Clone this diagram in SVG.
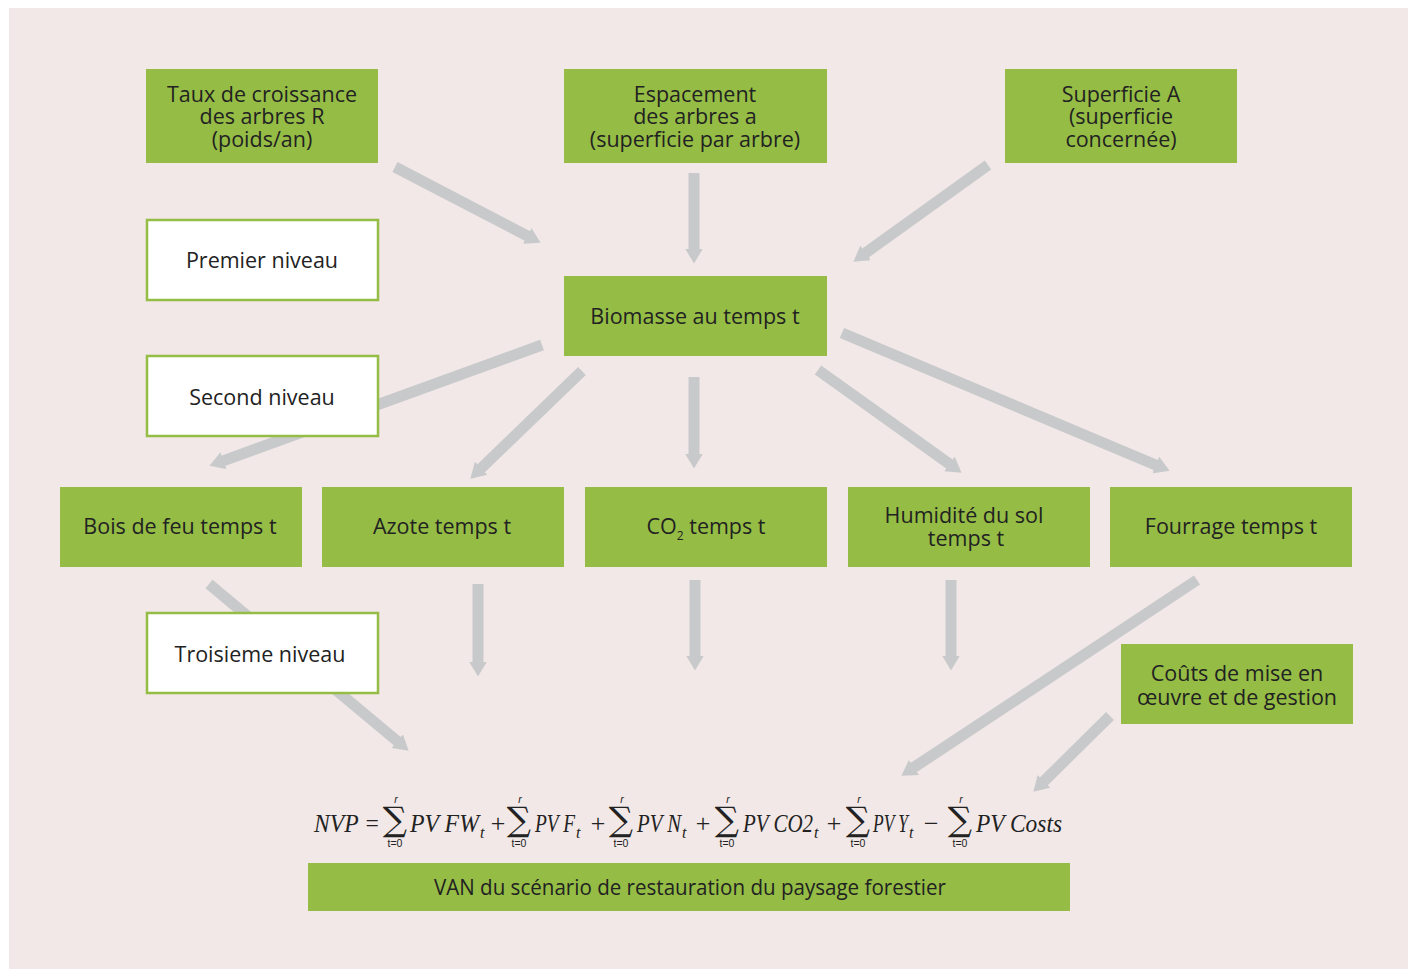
<svg xmlns="http://www.w3.org/2000/svg" width="1413" height="971" viewBox="0 0 1413 971">
<defs>
<marker id="ah" markerUnits="userSpaceOnUse" markerWidth="16" markerHeight="18" refX="0.5" refY="9" orient="auto" viewBox="0 0 16 18">
<path d="M0,0 L15,9 L0,18 Z" fill="#c8c9cb"/>
</marker>
<style>
.g{fill:#95bd45}
.w{fill:#ffffff;stroke:#95bd45;stroke-width:2.5}
.t{font-family:"Open Sans","DejaVu Sans",sans-serif;font-size:21.5px;fill:#222;text-anchor:middle}
.c line{stroke:#c8c9cb;stroke-width:11;marker-end:url(#ah)}
.f{font-family:"Liberation Serif","DejaVu Serif",serif;font-style:italic;font-size:26px;fill:#222}
.s{font-family:"DejaVu Serif",serif;font-size:34px;fill:#222;text-anchor:middle}
.sm{font-family:"Liberation Sans","DejaVu Sans",sans-serif;font-size:10.5px;fill:#222;text-anchor:middle}
.sb{font-family:"Liberation Serif","DejaVu Serif",serif;font-style:italic;font-size:16px;fill:#222}
</style>
</defs>
<rect x="9" y="8" width="1399" height="961" fill="#f1e8e7"/>
<g id="connectors" class="c">
<line x1="395" y1="167" x2="527.7" y2="236.1"/>
<line x1="694" y1="173" x2="694" y2="249"/>
<line x1="988" y1="165" x2="865.2" y2="253.2"/>
<line x1="542" y1="345" x2="223.1" y2="460.9"/>
<line x1="582" y1="371" x2="480.8" y2="468.6"/>
<line x1="694" y1="377" x2="694" y2="454"/>
<line x1="818" y1="370" x2="949.8" y2="464.3"/>
<line x1="842" y1="333" x2="1156.2" y2="465.2"/>
<line x1="209" y1="584" x2="397.5" y2="741.4"/>
<line x1="478" y1="584" x2="478" y2="662"/>
<line x1="695" y1="580" x2="695" y2="656"/>
<line x1="951" y1="580" x2="951" y2="656"/>
<line x1="1197" y1="580" x2="913.5" y2="767.7"/>
<line x1="1110" y1="716" x2="1043.7" y2="781.5"/>
</g>
<g id="taux"><rect class="g" x="146" y="69" width="232" height="94"/>
<text class="t"><tspan x="262" y="102">Taux de croissance</tspan><tspan x="262" y="124">des arbres R</tspan><tspan x="262" y="147">(poids/an)</tspan></text></g>
<g id="espacement"><rect class="g" x="564" y="69" width="263" height="94"/>
<text class="t"><tspan x="695" y="102">Espacement</tspan><tspan x="695" y="124">des arbres a</tspan><tspan x="695" y="147">(superficie par arbre)</tspan></text></g>
<g id="superficie"><rect class="g" x="1005" y="69" width="232" height="94"/>
<text class="t"><tspan x="1121" y="102">Superficie A</tspan><tspan x="1121" y="124">(superficie</tspan><tspan x="1121" y="147">concernée)</tspan></text></g>
<g id="premier"><rect class="w" x="147" y="220" width="231" height="80"/>
<text class="t" x="262" y="268">Premier niveau</text></g>
<g id="biomasse"><rect class="g" x="564" y="276" width="263" height="80"/>
<text class="t" x="695" y="324">Biomasse au temps t</text></g>
<g id="second"><rect class="w" x="147" y="356" width="231" height="80"/>
<text class="t" x="262" y="405">Second niveau</text></g>
<g id="bois"><rect class="g" x="60" y="487" width="242" height="80"/>
<text class="t" x="180" y="534">Bois de feu temps t</text></g>
<g id="azote"><rect class="g" x="322" y="487" width="242" height="80"/>
<text class="t" x="442" y="534">Azote temps t</text></g>
<g id="co2"><rect class="g" x="585" y="487" width="242" height="80"/>
<text class="t" x="706" y="534">CO<tspan font-size="12" dy="6">2</tspan><tspan dy="-6"> temps t</tspan></text></g>
<g id="humidite"><rect class="g" x="848" y="487" width="242" height="80"/>
<text class="t"><tspan x="964" y="523">Humidité du sol</tspan><tspan x="966" y="546">temps t</tspan></text></g>
<g id="fourrage"><rect class="g" x="1110" y="487" width="242" height="80"/>
<text class="t" x="1231" y="534">Fourrage temps t</text></g>
<g id="troisieme"><rect class="w" x="147" y="613" width="231" height="80"/>
<text class="t" x="260" y="662">Troisieme niveau</text></g>
<g id="couts"><rect class="g" x="1121" y="644" width="232" height="80"/>
<text class="t"><tspan x="1237" y="681">Coûts de mise en</tspan><tspan x="1237" y="705">œuvre et de gestion</tspan></text></g>
<g id="formula">
<text class="f" x="314" y="832" textLength="66" lengthAdjust="spacingAndGlyphs">NVP =</text>
<text class="s" x="395" y="831">∑</text><text class="sm" x="396" y="803" font-style="italic">r</text><text class="sm" x="395" y="847">t=0</text>
<text class="f" x="410" y="832" textLength="69" lengthAdjust="spacingAndGlyphs">PV FW</text><text class="sb" x="480" y="838">t</text>
<text class="f" x="489" y="832">+</text>
<text class="s" x="519" y="831">∑</text><text class="sm" x="520" y="803" font-style="italic">r</text><text class="sm" x="519" y="847">t=0</text>
<text class="f" x="535" y="832" textLength="40" lengthAdjust="spacingAndGlyphs">PV F</text><text class="sb" x="576" y="838">t</text>
<text class="f" x="589" y="832">+</text>
<text class="s" x="621" y="831">∑</text><text class="sm" x="622" y="803" font-style="italic">r</text><text class="sm" x="621" y="847">t=0</text>
<text class="f" x="637" y="832" textLength="44" lengthAdjust="spacingAndGlyphs">PV N</text><text class="sb" x="682" y="838">t</text>
<text class="f" x="694" y="832">+</text>
<text class="s" x="727" y="831">∑</text><text class="sm" x="728" y="803" font-style="italic">r</text><text class="sm" x="727" y="847">t=0</text>
<text class="f" x="743" y="832" textLength="70" lengthAdjust="spacingAndGlyphs">PV CO2</text><text class="sb" x="814" y="838">t</text>
<text class="f" x="825" y="832">+</text>
<text class="s" x="858" y="831">∑</text><text class="sm" x="859" y="803" font-style="italic">r</text><text class="sm" x="858" y="847">t=0</text>
<text class="f" x="873" y="832" textLength="35" lengthAdjust="spacingAndGlyphs">PV Y</text><text class="sb" x="909" y="838">t</text>
<text class="f" x="922" y="832">−</text>
<text class="s" x="960" y="831">∑</text><text class="sm" x="961" y="803" font-style="italic">r</text><text class="sm" x="960" y="847">t=0</text>
<text class="f" x="976" y="832" textLength="86" lengthAdjust="spacingAndGlyphs">PV Costs</text>
</g>
<g id="van"><rect class="g" x="308" y="863" width="762" height="48"/>
<text class="t" x="690" y="895" textLength="512" lengthAdjust="spacingAndGlyphs">VAN du scénario de restauration du paysage forestier</text></g>
</svg>
